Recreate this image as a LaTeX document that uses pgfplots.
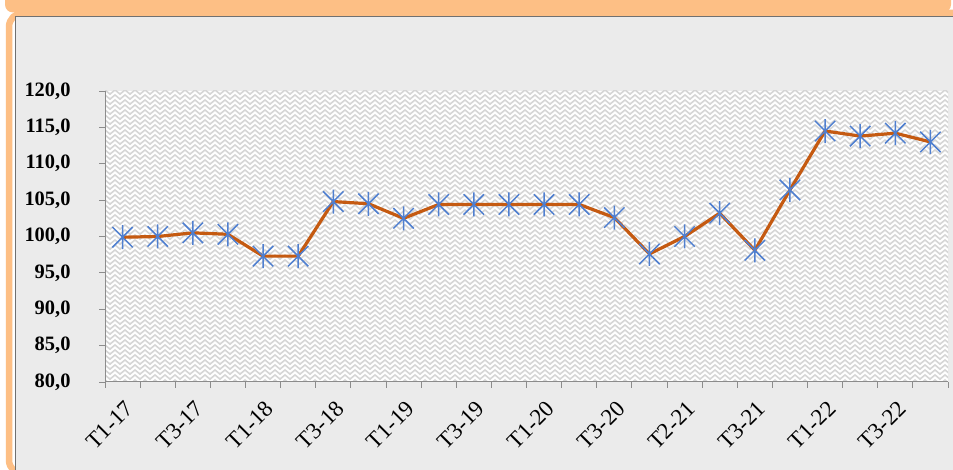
\documentclass[border=0pt]{standalone}
\usepackage{fontspec}
\setmainfont{Liberation Serif}
\usepackage{pgfplots}
\pgfplotsset{compat=1.18}
\usetikzlibrary{patterns}
\definecolor{orangeframe}{HTML}{FDBF85}
\definecolor{panel}{HTML}{EBEBEB}
\definecolor{lineor}{HTML}{C55A11}
\definecolor{markblue}{HTML}{4F7FD0}
\definecolor{axgray}{HTML}{8C8C8C}
\definecolor{hatch}{HTML}{D6D6D6}

\pgfdeclarepatternformonly{zigzag}{\pgfqpoint{-1bp}{-1bp}}{\pgfqpoint{11bp}{6bp}}{\pgfqpoint{10bp}{5bp}}{%
  \pgfsetlinewidth{1.6bp}%
  \pgfpathmoveto{\pgfqpoint{-0.5bp}{0.5bp}}%
  \pgfpathlineto{\pgfqpoint{5bp}{5bp}}%
  \pgfpathlineto{\pgfqpoint{10.5bp}{0.5bp}}%
  \pgfusepath{stroke}%
}

\pgfdeclareplotmark{xstar}{%
  \pgfpathmoveto{\pgfqpoint{0pt}{\pgfplotmarksize}}%
  \pgfpathlineto{\pgfqpoint{0pt}{-\pgfplotmarksize}}%
  \pgfpathmoveto{\pgfqpoint{-0.85\pgfplotmarksize}{-0.85\pgfplotmarksize}}%
  \pgfpathlineto{\pgfqpoint{0.85\pgfplotmarksize}{0.85\pgfplotmarksize}}%
  \pgfpathmoveto{\pgfqpoint{-0.85\pgfplotmarksize}{0.85\pgfplotmarksize}}%
  \pgfpathlineto{\pgfqpoint{0.85\pgfplotmarksize}{-0.85\pgfplotmarksize}}%
  \pgfusepathqstroke
}

\pgfplotstableread{
x y
0 99.9
1 100.0
2 100.5
3 100.3
4 97.3
5 97.3
6 104.8
7 104.5
8 102.5
9 104.4
10 104.4
11 104.4
12 104.4
13 104.4
14 102.6
15 97.6
16 100.0
17 103.2
18 98.1
19 106.4
20 114.5
21 113.8
22 114.2
23 113.0
}\datatable

\begin{document}
\begin{tikzpicture}[x=1bp,y=1bp]
\useasboundingbox (0,0) rectangle (953,470);
\clip (0,0) rectangle (953,470);
\fill[white] (0,0) rectangle (953,470);
\fill[orangeframe, rounded corners=8bp] (5,500) rectangle (951,457.5);
\draw[orangeframe, line width=6.5bp, rounded corners=14bp] (9,457) rectangle (1000,-4);
\fill[panel] (15,-5) rectangle (960,454);
\draw[axgray!80!black, line width=0.8bp] (15,-5) -- (15,454) -- (960,454);
\begin{axis}[
  at={(105bp,88bp)}, anchor=south west,
  scale only axis, width=843bp, height=291bp,
  xmin=-0.5, xmax=23.5, ymin=80, ymax=120,
  axis lines*=left,
  axis line style={axgray, line width=1bp},
  axis background/.style={fill=white, postaction={pattern=zigzag, pattern color=hatch}},
  tick align=outside,
  major tick length=6bp, minor tick length=6bp,
  tick style={axgray, line width=0.9bp},
  ytick={80,85,...,120},
  xtick={0,2,...,22},
  xticklabels={T1-17,T3-17,T1-18,T3-18,T1-19,T3-19,T1-20,T3-20,T2-21,T3-21,T1-22,T3-22},
  minor xtick={-0.5,0.5,...,23.5},
  major x tick style={draw=none},
  /pgf/number format/.cd, fixed, fixed zerofill, precision=1, use comma, assume math mode=true,
  /pgfplots/.cd,
  yticklabel style={font=\bfseries\fontsize{20.5}{22}\selectfont, anchor=east, xshift=-25bp},
  xticklabel style={font=\fontsize{23}{25}\selectfont, rotate=45, anchor=east, xshift=-4bp, yshift=-17bp},
  clip=false,
]
\addplot[lineor, line width=3.2bp, mark=xstar, mark size=12bp,
  mark options={markblue, line width=1.5bp}] table[x=x,y=y] {\datatable};
\end{axis}
\end{tikzpicture}
\end{document}
